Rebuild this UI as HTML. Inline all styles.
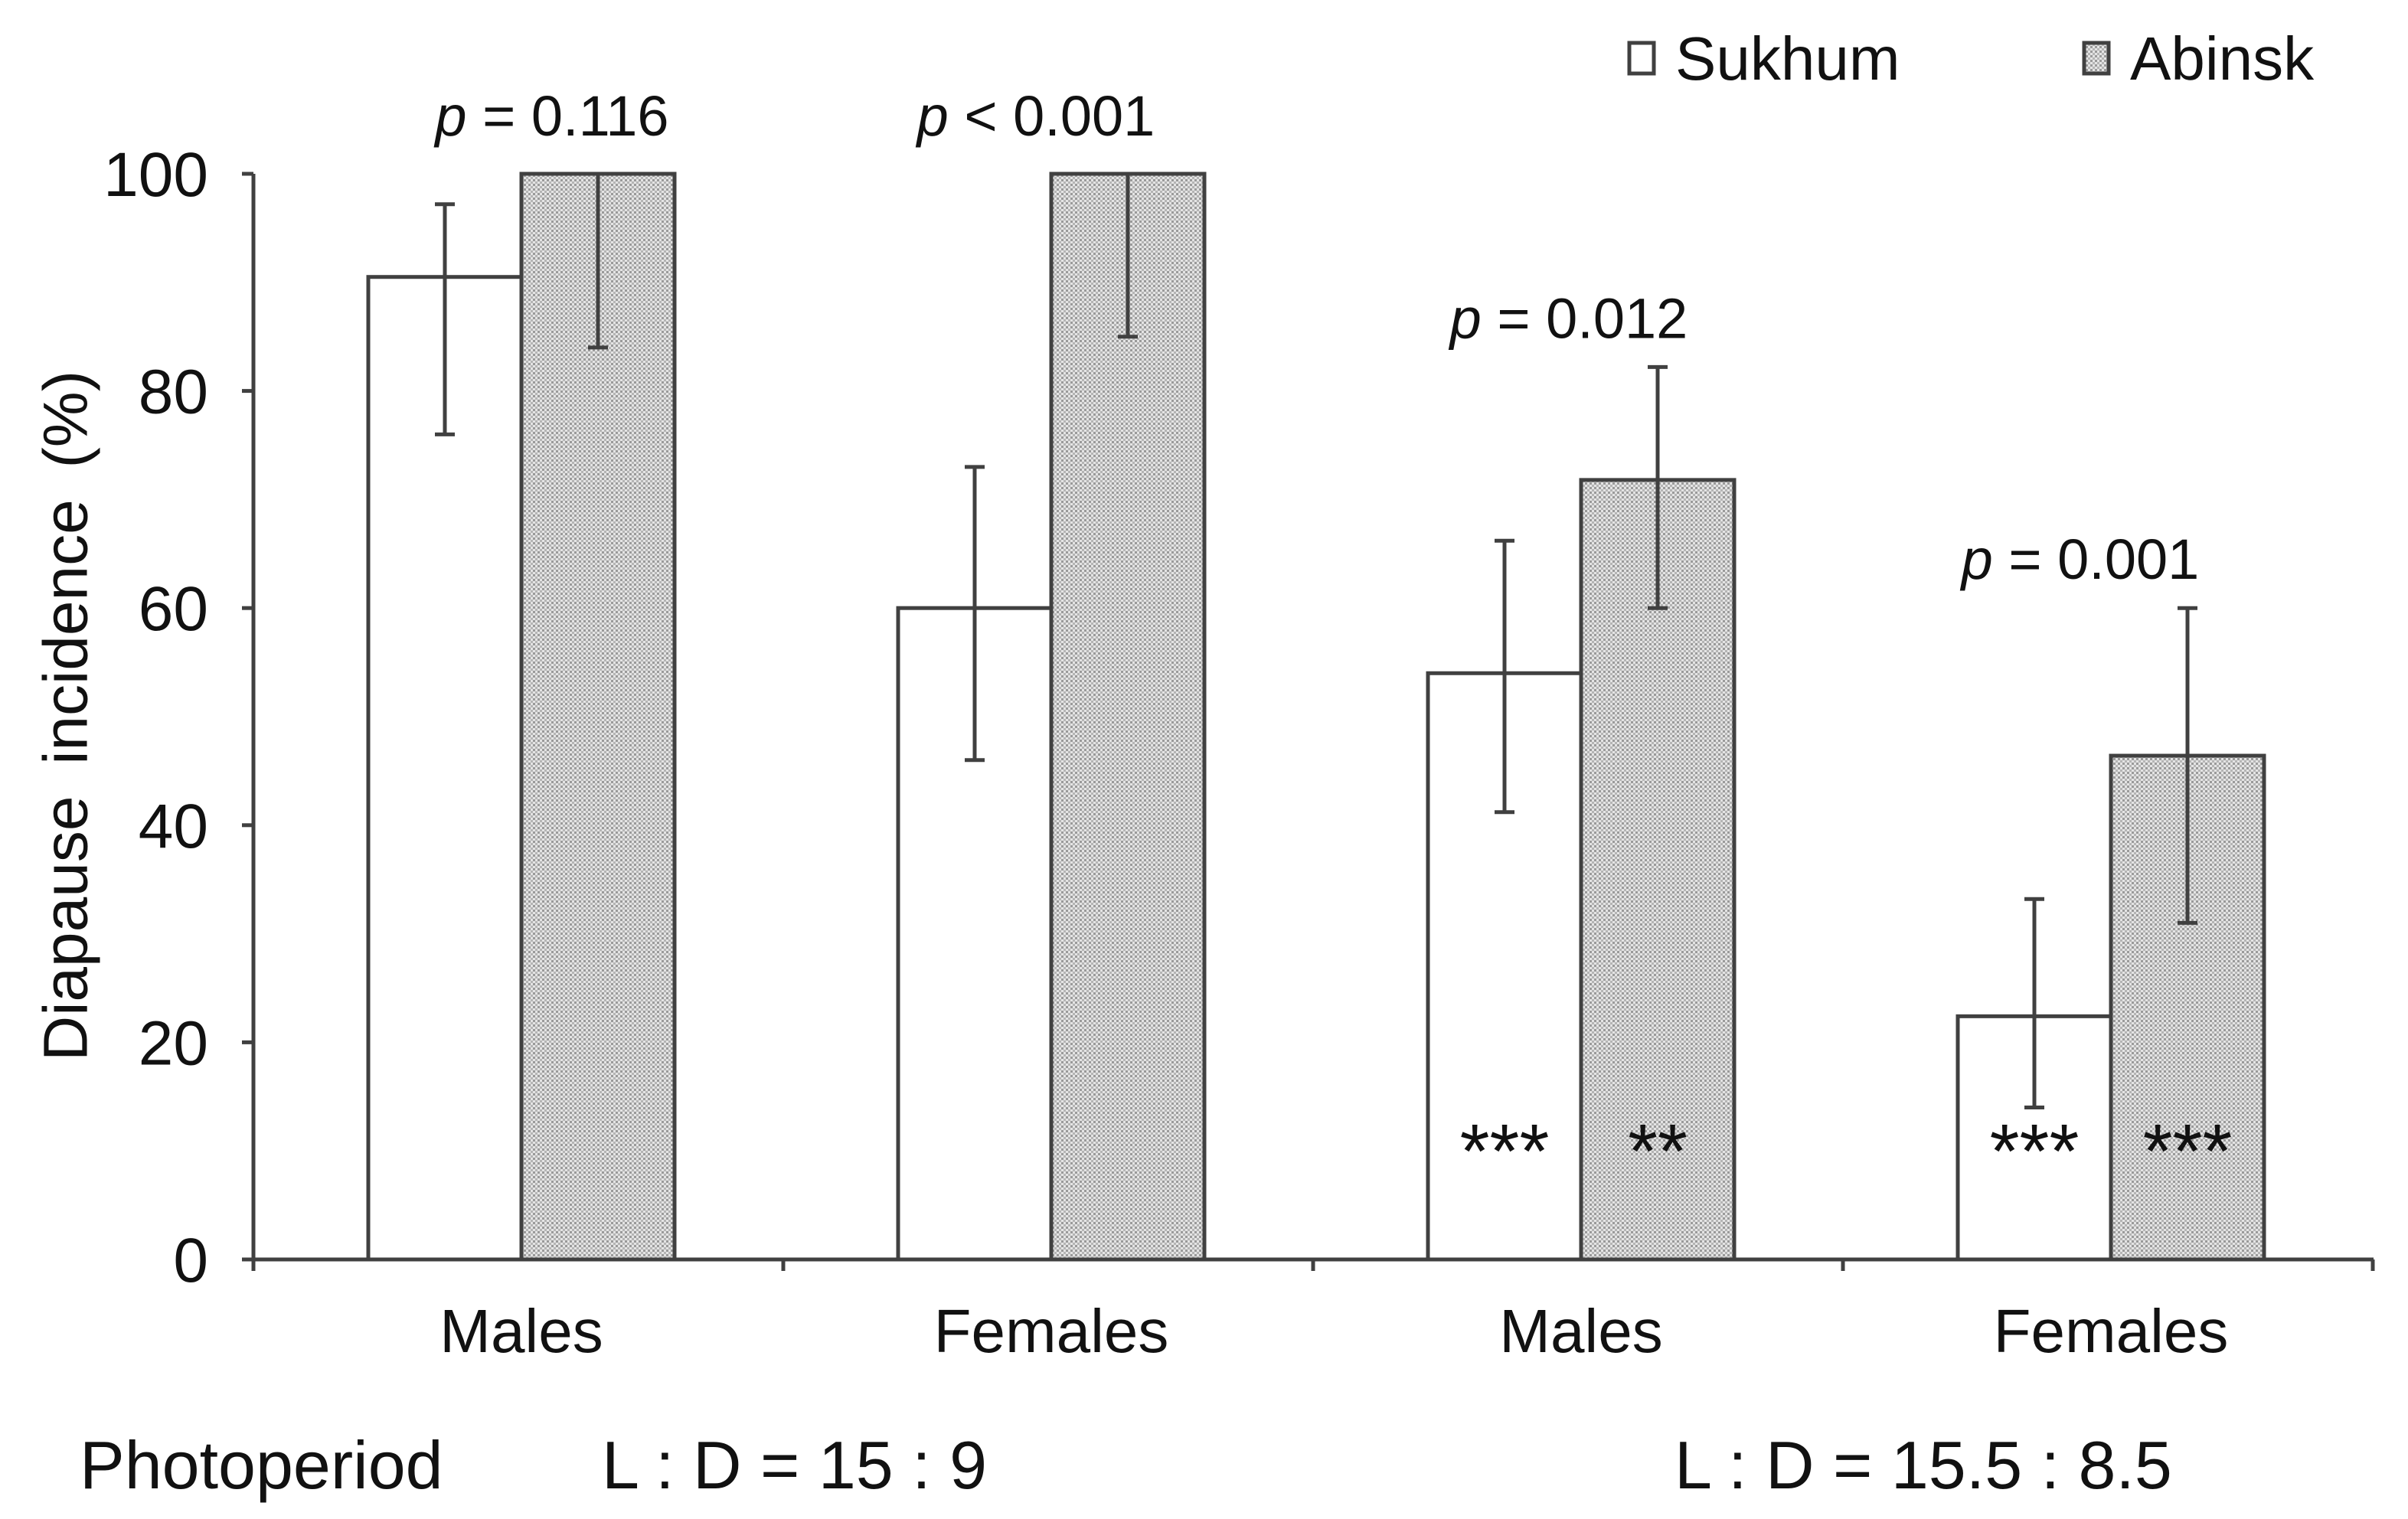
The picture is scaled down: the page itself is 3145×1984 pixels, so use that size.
<!DOCTYPE html>
<html><head><meta charset="utf-8"><style>
html,body{margin:0;padding:0;background:#fff;}
svg{display:block;font-family:"Liberation Sans",Arial,sans-serif;}
</style></head><body>
<svg id="chart" width="3145" height="1984" viewBox="0 0 3145 1984" xmlns="http://www.w3.org/2000/svg">
<defs>
<pattern id="dots" width="6" height="6" patternUnits="userSpaceOnUse">
<rect width="6" height="6" fill="#e4e4e4"/>
<rect x="0" y="0" width="3" height="3" fill="#9a9a9a"/>
<rect x="3" y="3" width="3" height="3" fill="#b5b5b5"/>
</pattern>
</defs>
<g id="plot"></g>
<text x="92" y="935" transform="rotate(-90 92 935)" font-size="82" text-anchor="middle" dominant-baseline="middle" word-spacing="18" fill="#111">Diapause incidence (%)</text>
<g>
<rect x="2128" y="56" width="32" height="40" fill="#fff" stroke="#404040" stroke-width="5"/>
<text x="2188" y="104" font-size="80" fill="#111">Sukhum</text>
<rect x="2722" y="56" width="32" height="40" fill="url(#dots)" stroke="#404040" stroke-width="5"/>
<text x="2782" y="104" font-size="80" fill="#111">Abinsk</text>
</g>
<g font-size="88" fill="#111">
<text x="104" y="1944">Photoperiod</text>
<text x="786" y="1944">L : D = 15 : 9</text>
<text x="2187" y="1944">L : D = 15.5 : 8.5</text>
</g>
</svg>
<script>
const categories = ["Males","Females","Males","Females"];
const sukhum = [90.5, 60, 54, 22.4];
const sukhumHi = [97.2, 73, 66.2, 33.2];
const sukhumLo = [76, 46, 41.2, 14];
const abinsk = [100, 100, 71.8, 46.4];
const abinskHi = [100, 100, 82.2, 60];
const abinskLo = [84, 85, 60, 31];
const yTicks = [0,20,40,60,80,100];
const pLabels = ["= 0.116","< 0.001","= 0.012","= 0.001"];
const starsS = ["","","***","***"];
const starsA = ["","","**","***"];

const NS="http://www.w3.org/2000/svg";
const g=document.getElementById('plot');
const X0=331, X1=3100, CW=692, Y0=1645, Y100=227;
const y=v=>Y0-(Y0-Y100)*v/100;
const cx=i=>X0+CW*i+CW/2;
const BW=200;
const ST="#404040", SW=5;
const pShift=[44,-16,-12,-36];
function mk(t,a,txt){const e=document.createElementNS(NS,t);for(const k in a)e.setAttribute(k,a[k]);if(txt!==undefined)e.textContent=txt;g.appendChild(e);return e;}

let e=mk('line',{x1:X0,y1:Y100,x2:X0,y2:Y0+15,stroke:ST,'stroke-width':SW});


e=mk('line',{x1:X0-15,y1:Y0,x2:X1,y2:Y0,stroke:ST,'stroke-width':SW});


yTicks.forEach(v=>{
 let t=mk('line',{x1:X0-15,y1:y(v),x2:X0,y2:y(v),stroke:ST,'stroke-width':SW});
 
 
 let l=mk('text',{x:272,y:y(v)+29,'font-size':82,'text-anchor':'end',fill:'#111'},String(v));
 
 
});
for(let i=1;i<=categories.length;i++){
 let t=mk('line',{x1:X0+CW*i,y1:Y0,x2:X0+CW*i,y2:Y0+15,stroke:ST,'stroke-width':SW});
 
 
}
categories.forEach((c,i)=>{
 let l=mk('text',{x:cx(i)+4,y:1766,'font-size':80,'text-anchor':'middle',fill:'#111'},c);
 
 
});
function errbar(xc,hi,lo){
 let a=mk('line',{x1:xc,y1:y(hi),x2:xc,y2:y(lo),stroke:ST,'stroke-width':SW});
 
 
 mk('line',{x1:xc-13,y1:y(hi),x2:xc+13,y2:y(hi),stroke:ST,'stroke-width':SW});
 mk('line',{x1:xc-13,y1:y(lo),x2:xc+13,y2:y(lo),stroke:ST,'stroke-width':SW});
}
categories.forEach((c,i)=>{
 const xs=cx(i)-BW+4, xa=cx(i)+4;
 let b=mk('rect',{x:xs,y:y(sukhum[i]),width:BW,height:Y0-y(sukhum[i]),fill:'#fff',stroke:ST,'stroke-width':SW});
 
 
 b=mk('rect',{x:xa,y:y(abinsk[i]),width:BW,height:Y0-y(abinsk[i]),fill:'url(#dots)',stroke:ST,'stroke-width':SW});
 
 
 errbar(xs+BW/2,sukhumHi[i],sukhumLo[i]);
 errbar(xa+BW/2,abinskHi[i],abinskLo[i]);
 const top=Math.max(sukhumHi[i],abinskHi[i]);
 let p=mk('text',{x:cx(i)+pShift[i],y:y(top)-(top>=100?50:38),'font-size':74,'text-anchor':'middle',fill:'#111'});
 
 
 const it=document.createElementNS(NS,'tspan');it.setAttribute('font-style','italic');it.textContent='p';p.appendChild(it);
 p.appendChild(document.createTextNode(' '+pLabels[i]));
 if(starsS[i]){let s=mk('text',{x:xs+BW/2,y:1538,'font-size':100,'text-anchor':'middle',fill:'#111'},starsS[i]);
  
  }
 if(starsA[i]){let s=mk('text',{x:xa+BW/2,y:1538,'font-size':100,'text-anchor':'middle',fill:'#111'},starsA[i]);
  
  }
});
</script>
</body></html>
